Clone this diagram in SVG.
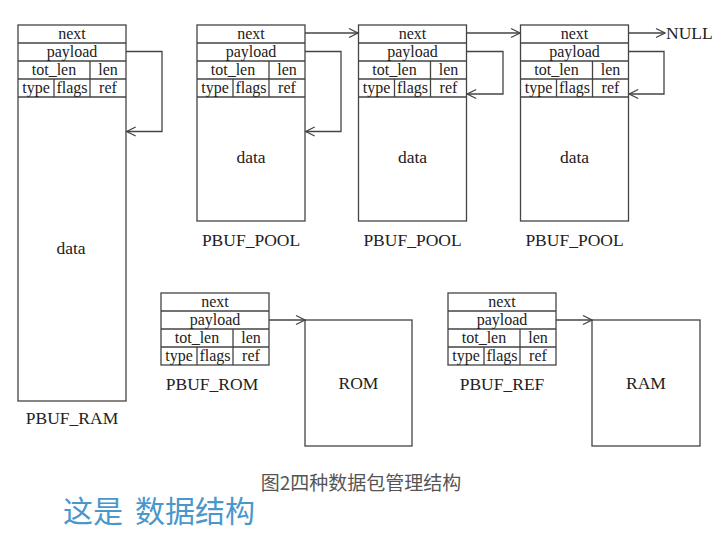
<svg xmlns="http://www.w3.org/2000/svg" width="725" height="534" viewBox="0 0 725 534">
<style>
.b{fill:#fff;stroke:#444;stroke-width:1.3}
.l{stroke:#444;stroke-width:1.3;fill:none}
.t{font-family:"Liberation Serif","Times New Roman",serif;font-size:16px;fill:#222;text-anchor:middle}
.lb{font-family:"Liberation Serif","Times New Roman",serif;font-size:17.5px;fill:#222;text-anchor:middle}
.a{stroke:#444;stroke-width:1.3;fill:none;marker-end:url(#ah)}
</style>
<defs>
<marker id="ah" markerUnits="userSpaceOnUse" markerWidth="12" markerHeight="12" refX="10" refY="5.5" orient="auto" viewBox="0 0 12 11">
<path d="M1,1 L10,5.5 L1,10" fill="none" stroke="#444" stroke-width="1.3"/>
</marker>
</defs>
<rect width="725" height="534" fill="#fff"/>

<g id="pbuf_ram">
<rect class="b" x="18" y="25" width="108" height="376"/>
<path class="l" d="M18,43H126M18,61H126M18,79H126M18,97H126M90,61V97M54,79V97"/>
<text class="t" x="72" y="39">next</text>
<text class="t" x="72" y="57">payload</text>
<text class="t" x="54" y="75">tot_len</text>
<text class="t" x="108" y="75">len</text>
<text class="t" x="36" y="93">type</text>
<text class="t" x="72" y="93">flags</text>
<text class="t" x="108" y="93">ref</text>
<text class="lb" x="71" y="254">data</text>
<text class="lb" x="72" y="424">PBUF_RAM</text>
</g>

<g id="pbuf_pool1">
<rect class="b" x="197" y="25" width="108" height="196"/>
<path class="l" d="M197,43H305M197,61H305M197,79H305M197,97H305M269,61V97M233,79V97"/>
<text class="t" x="251" y="39">next</text>
<text class="t" x="251" y="57">payload</text>
<text class="t" x="233" y="75">tot_len</text>
<text class="t" x="287" y="75">len</text>
<text class="t" x="215" y="93">type</text>
<text class="t" x="251" y="93">flags</text>
<text class="t" x="287" y="93">ref</text>
<text class="lb" x="251" y="163">data</text>
<text class="lb" x="251" y="246">PBUF_POOL</text>
</g>

<g id="pbuf_pool2">
<rect class="b" x="358.5" y="25" width="108" height="196"/>
<path class="l" d="M358.5,43H466.5M358.5,61H466.5M358.5,79H466.5M358.5,97H466.5M430.5,61V97M394.5,79V97"/>
<text class="t" x="412.5" y="39">next</text>
<text class="t" x="412.5" y="57">payload</text>
<text class="t" x="394.5" y="75">tot_len</text>
<text class="t" x="448.5" y="75">len</text>
<text class="t" x="376.5" y="93">type</text>
<text class="t" x="412.5" y="93">flags</text>
<text class="t" x="448.5" y="93">ref</text>
<text class="lb" x="412.5" y="163">data</text>
<text class="lb" x="412.5" y="246">PBUF_POOL</text>
</g>

<g id="pbuf_pool3">
<rect class="b" x="520.5" y="25" width="108" height="196"/>
<path class="l" d="M520.5,43H628.5M520.5,61H628.5M520.5,79H628.5M520.5,97H628.5M592.5,61V97M556.5,79V97"/>
<text class="t" x="574.5" y="39">next</text>
<text class="t" x="574.5" y="57">payload</text>
<text class="t" x="556.5" y="75">tot_len</text>
<text class="t" x="610.5" y="75">len</text>
<text class="t" x="538.5" y="93">type</text>
<text class="t" x="574.5" y="93">flags</text>
<text class="t" x="610.5" y="93">ref</text>
<text class="lb" x="574.5" y="163">data</text>
<text class="lb" x="574.5" y="246">PBUF_POOL</text>
</g>

<g id="null">
<text class="lb" x="666" y="39" style="text-anchor:start">NULL</text>
</g>

<g id="pbuf_rom">
<rect class="b" x="161" y="293" width="108" height="72"/>
<path class="l" d="M161,311H269M161,329H269M161,347H269M233,329V365M197,347V365"/>
<text class="t" x="215" y="307">next</text>
<text class="t" x="215" y="325">payload</text>
<text class="t" x="197" y="343">tot_len</text>
<text class="t" x="251" y="343">len</text>
<text class="t" x="179" y="361">type</text>
<text class="t" x="215" y="361">flags</text>
<text class="t" x="251" y="361">ref</text>
<text class="lb" x="212" y="390">PBUF_ROM</text>
</g>

<g id="rom">
<rect class="b" x="305" y="320" width="107" height="126"/>
<text class="lb" x="358.5" y="389">ROM</text>
</g>

<g id="pbuf_ref">
<rect class="b" x="448" y="293" width="108" height="72"/>
<path class="l" d="M448,311H556M448,329H556M448,347H556M520,329V365M484,347V365"/>
<text class="t" x="502" y="307">next</text>
<text class="t" x="502" y="325">payload</text>
<text class="t" x="484" y="343">tot_len</text>
<text class="t" x="538" y="343">len</text>
<text class="t" x="466" y="361">type</text>
<text class="t" x="502" y="361">flags</text>
<text class="t" x="538" y="361">ref</text>
<text class="lb" x="502" y="390">PBUF_REF</text>
</g>

<g id="ram">
<rect class="b" x="592" y="320" width="108" height="126"/>
<text class="lb" x="646" y="389">RAM</text>
</g>

<g id="connectors">
<path class="a" d="M126,51.5H162V131.5H126.7"/>
<path class="a" d="M305,33H358"/>
<path class="a" d="M305,51.5H341V131.5H305.7"/>
<path class="a" d="M466.5,33H520"/>
<path class="a" d="M466.5,51.5H503V94H467.2"/>
<path class="a" d="M628.5,33H665"/>
<path class="a" d="M628.5,51.5H664V94H629.2"/>
<path class="a" d="M269,320H305"/>
<path class="a" d="M556,320H592"/>
</g>

<g id="captions">
<text x="361" y="490" style="font-family:'Noto Sans CJK SC','Noto Sans',sans-serif;font-size:19px;fill:#555;text-anchor:middle">图2四种数据包管理结构</text>
<text y="522" style="font-family:'Noto Sans CJK SC','Noto Sans',sans-serif;font-size:30px;fill:#4a97cc"><tspan x="63">这是</tspan><tspan x="135">数据结构</tspan></text>
</g>
</svg>
